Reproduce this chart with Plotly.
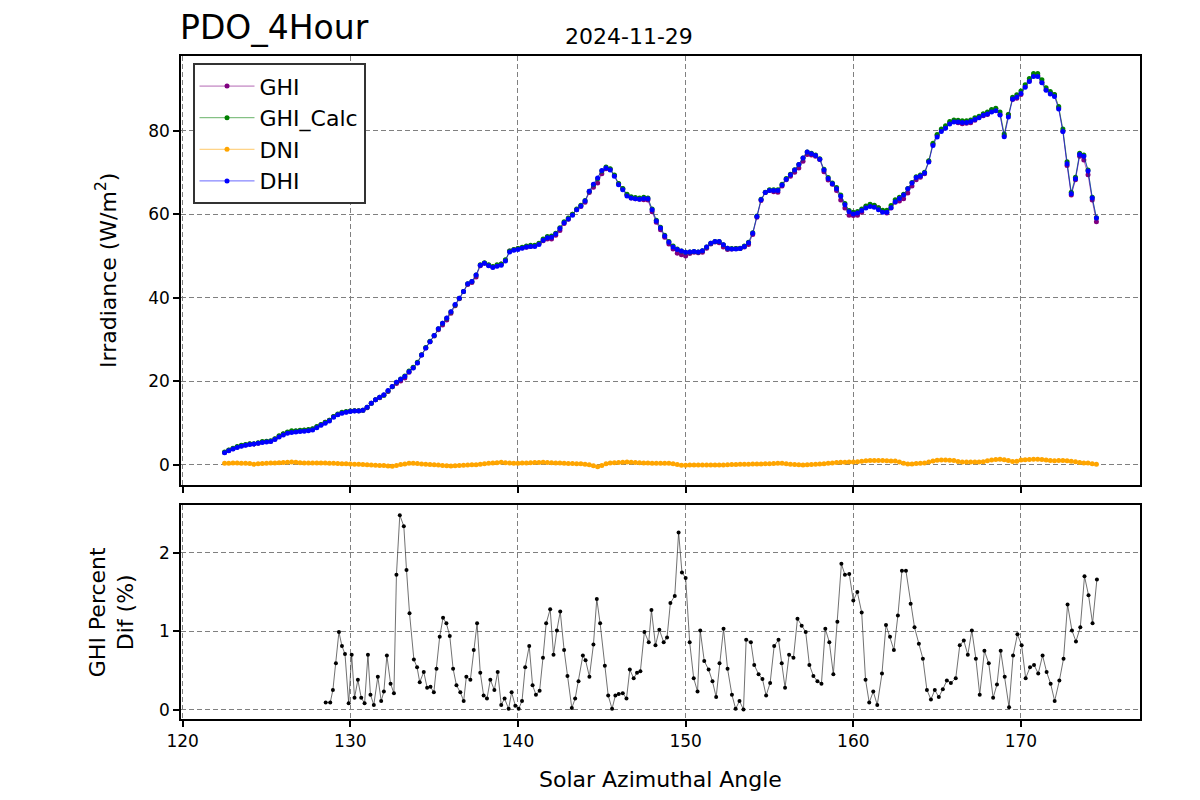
import numpy as np
import plotly.graph_objects as go

# azimuth sampling of the irradiance series (deg)
azimuth = np.round(np.arange(122.5, 174.51, 0.25), 2)

dhi = [2.9, 3.4, 3.8, 4.2, 4.5, 4.7, 4.9, 5.0,
       5.2, 5.4, 5.5, 5.6, 6.1, 6.7, 7.2, 7.6,
       7.8, 7.9, 8.0, 8.1, 8.2, 8.4, 8.9, 9.5,
       10.0, 10.5, 11.4, 12.0, 12.4, 12.6, 12.8, 12.9,
       12.9, 13.1, 13.8, 14.8, 15.6, 16.2, 16.8, 17.8,
       18.8, 19.8, 20.5, 21.2, 22.3, 23.2, 24.4, 26.3,
       28.0, 29.5, 31.0, 32.6, 33.9, 35.2, 36.7, 38.4,
       39.9, 41.5, 43.4, 43.9, 45.5, 47.8, 48.3, 47.7,
       47.3, 47.6, 47.8, 48.8, 51.0, 51.4, 51.6, 51.9,
       52.2, 52.3, 52.3, 52.8, 53.8, 54.4, 54.5, 55.3,
       56.6, 58.0, 58.9, 59.8, 61.1, 62.0, 63.2, 65.5,
       67.2, 68.7, 70.5, 71.1, 70.6, 69.1, 67.1, 65.9,
       64.4, 63.9, 63.7, 63.6, 63.8, 63.7, 61.1, 58.4,
       56.7, 54.8, 53.3, 52.2, 51.6, 51.2, 50.9, 51.0,
       51.1, 51.0, 51.3, 52.2, 53.1, 53.5, 53.5, 52.7,
       51.9, 51.7, 51.7, 51.8, 52.3, 53.2, 55.5, 59.5,
       63.5, 65.2, 65.7, 65.7, 65.7, 67.0, 68.4, 69.5,
       70.6, 71.9, 73.5, 74.9, 74.5, 74.1, 73.2, 70.6,
       68.6, 67.3, 66.1, 64.3, 62.3, 60.6, 60.1, 60.3,
       60.9, 61.5, 61.9, 61.7, 61.1, 60.5, 60.5, 61.6,
       63.0, 63.8, 64.6, 66.1, 67.5, 68.8, 69.2, 69.9,
       72.5, 76.5, 78.5, 79.8, 80.6, 81.6, 82.1, 82.1,
       82.0, 82.0, 82.2, 82.7, 83.1, 83.7, 84.0, 84.5,
       84.8, 83.8, 78.6, 83.3, 87.6, 88.1, 88.9, 90.4,
       91.8, 93.0, 93.0, 91.5, 89.7, 88.8, 88.2, 85.2,
       79.8, 72.1, 64.9, 68.5, 74.3, 73.9, 70.4, 63.9,
       59.1]

ghi_calc = [3.1, 3.6, 4.0, 4.4, 4.7, 4.9, 5.1, 5.1,
            5.3, 5.6, 5.7, 5.8, 6.3, 7.0, 7.5, 7.9,
            8.2, 8.2, 8.3, 8.4, 8.5, 8.7, 9.2, 9.7,
            10.2, 10.7, 11.6, 12.2, 12.6, 12.8, 12.9, 13.0,
            13.0, 13.1, 13.8, 14.8, 15.6, 16.2, 16.7, 17.7,
            18.7, 19.8, 20.6, 21.3, 22.5, 23.4, 24.6, 26.4,
            28.1, 29.6, 31.0, 32.6, 33.9, 35.1, 36.6, 38.3,
            39.9, 41.5, 43.4, 43.9, 45.5, 47.9, 48.4, 47.9,
            47.5, 47.9, 48.1, 49.1, 51.2, 51.6, 51.8, 52.1,
            52.4, 52.6, 52.6, 53.1, 54.1, 54.7, 54.8, 55.5,
            56.8, 58.2, 59.1, 60.0, 61.3, 62.2, 63.3, 65.5,
            67.1, 68.5, 70.4, 71.3, 70.9, 69.4, 67.4, 66.2,
            64.8, 64.2, 64.0, 63.9, 64.1, 63.9, 61.3, 58.6,
            56.9, 55.0, 53.5, 52.4, 51.7, 51.2, 50.9, 51.0,
            51.1, 51.0, 51.3, 52.2, 53.1, 53.5, 53.5, 52.7,
            51.9, 51.8, 51.8, 51.9, 52.4, 53.3, 55.6, 59.6,
            63.6, 65.3, 65.9, 65.9, 65.9, 67.2, 68.6, 69.6,
            70.7, 71.9, 73.5, 74.9, 74.6, 74.2, 73.3, 70.8,
            68.8, 67.5, 66.4, 64.6, 62.6, 60.9, 60.5, 60.7,
            61.3, 62.0, 62.4, 62.2, 61.6, 61.0, 61.0, 62.1,
            63.5, 64.1, 64.8, 66.2, 67.6, 69.0, 69.4, 70.1,
            72.8, 77.0, 79.1, 80.4, 81.2, 82.2, 82.6, 82.5,
            82.4, 82.4, 82.6, 83.1, 83.5, 84.1, 84.5, 85.1,
            85.4, 84.5, 79.2, 83.9, 88.0, 88.6, 89.5, 91.0,
            92.5, 93.7, 93.7, 92.2, 90.3, 89.4, 88.7, 85.8,
            80.4, 72.6, 65.3, 68.9, 74.6, 74.2, 70.6, 64.1,
            59.2]

ghi = [3.0, 3.5, 3.9, 4.3, 4.6, 4.8, 5.0, 5.0,
       5.2, 5.5, 5.6, 5.7, 6.2, 6.9, 7.4, 7.8,
       8.0, 8.1, 8.2, 8.3, 8.4, 8.6, 9.1, 9.6,
       10.2, 10.7, 11.6, 12.1, 12.5, 12.7, 12.9, 13.0,
       13.0, 13.1, 13.7, 14.8, 15.6, 16.1, 16.7, 17.6,
       18.7, 19.5, 20.1, 20.8, 22.2, 23.3, 24.5, 26.3,
       28.0, 29.5, 30.9, 32.4, 33.5, 34.7, 36.3, 38.1,
       39.8, 41.5, 43.2, 43.7, 45.0, 47.7, 48.3, 47.8,
       47.4, 47.7, 48.1, 49.0, 51.2, 51.5, 51.8, 52.0,
       52.1, 52.3, 52.5, 53.0, 53.7, 54.1, 54.1, 55.0,
       56.1, 57.8, 58.8, 60.0, 61.1, 61.9, 62.9, 65.2,
       66.5, 67.5, 69.7, 70.9, 70.8, 69.3, 67.3, 66.1,
       64.7, 63.9, 63.7, 63.6, 63.5, 63.4, 60.6, 58.1,
       56.3, 54.5, 52.9, 51.7, 50.7, 50.3, 50.0, 50.6,
       50.9, 50.8, 50.9, 51.9, 52.9, 53.4, 53.2, 52.2,
       51.6, 51.7, 51.8, 51.8, 52.2, 52.8, 55.2, 59.3,
       63.3, 65.2, 65.7, 65.4, 65.3, 66.8, 68.3, 69.1,
       70.1, 71.1, 72.7, 74.3, 74.2, 73.9, 73.1, 70.2,
       68.2, 67.2, 65.7, 63.4, 61.5, 59.8, 59.7, 59.8,
       60.5, 61.8, 62.3, 62.1, 61.6, 60.7, 60.3, 61.5,
       62.9, 63.2, 63.7, 65.1, 66.8, 68.3, 68.9, 69.7,
       72.7, 76.8, 78.9, 80.2, 80.9, 81.9, 82.3, 81.9,
       81.7, 81.8, 81.9, 82.5, 83.3, 83.6, 83.9, 84.9,
       85.2, 83.9, 78.8, 83.9, 87.5, 87.8, 88.7, 90.6,
       92.0, 93.2, 93.3, 91.6, 89.8, 89.1, 88.6, 85.5,
       79.9, 71.7, 64.6, 68.3, 73.9, 73.0, 69.5, 63.4,
       58.2]

dni = [0.4, 0.4, 0.45, 0.45, 0.4, 0.4, 0.35, 0.15,
       0.3, 0.35, 0.4, 0.45, 0.5, 0.55, 0.6, 0.65,
       0.72, 0.65, 0.55, 0.5, 0.5, 0.5, 0.5, 0.48,
       0.45, 0.4, 0.4, 0.35, 0.3, 0.3, 0.25, 0.2,
       0.15, 0.1, 0.05, 0.0, -0.05, -0.1, -0.15, -0.25,
       -0.3, -0.1, 0.1, 0.25, 0.4, 0.4, 0.35, 0.25,
       0.2, 0.1, 0.05, 0.0, -0.1, -0.2, -0.24, -0.2,
       -0.1, -0.05, 0.0, 0.05, 0.08, 0.2, 0.3, 0.4,
       0.5, 0.55, 0.64, 0.55, 0.45, 0.4, 0.4, 0.45,
       0.5, 0.55, 0.6, 0.62, 0.64, 0.6, 0.55, 0.5,
       0.45, 0.4, 0.35, 0.35, 0.32, 0.3, 0.2, 0.05,
       -0.2, -0.4, -0.1, 0.3, 0.5, 0.55, 0.6, 0.65,
       0.72, 0.65, 0.6, 0.55, 0.5, 0.45, 0.4, 0.4,
       0.4, 0.4, 0.4, 0.3, 0.1, -0.08, -0.05, 0.0,
       0.0, 0.0, 0.0, 0.0, 0.02, 0.0, 0.0, 0.0,
       0.05, 0.1, 0.12, 0.15, 0.16, 0.2, 0.22, 0.24,
       0.24, 0.28, 0.3, 0.35, 0.4, 0.4, 0.3, 0.2,
       0.1, 0.05, 0.0, 0.05, 0.1, 0.2, 0.24, 0.3,
       0.4, 0.5, 0.6, 0.64, 0.66, 0.7, 0.72, 0.8,
       0.9, 1.0, 1.05, 1.1, 1.1, 1.05, 1.0, 0.98,
       0.96, 0.7, 0.4, 0.25, 0.25, 0.35, 0.4, 0.5,
       0.7, 0.95, 1.15, 1.2, 1.2, 1.15, 1.05, 0.85,
       0.72, 0.72, 0.72, 0.72, 0.72, 0.8, 1.0, 1.2,
       1.3, 1.36, 1.25, 1.1, 0.85, 0.9, 1.2, 1.25,
       1.3, 1.35, 1.36, 1.3, 1.2, 1.1, 1.04, 1.1,
       1.1, 1.04, 0.9, 0.8, 0.6, 0.5, 0.45, 0.3,
       0.16]

pct_az = [128.53, 128.8, 128.96, 129.14, 129.32, 129.5, 129.68, 129.9, 130.08, 130.25,
          130.45, 130.65, 130.85, 131.05, 131.2, 131.4, 131.64, 131.84, 132.0, 132.18,
          132.4, 132.6, 132.75, 132.95, 133.19, 133.35, 133.53, 133.79, 133.98, 134.14,
          134.38, 134.58, 134.78, 134.98, 135.14, 135.33, 135.53, 135.73, 135.93, 136.13,
          136.33, 136.56, 136.76, 136.92, 137.16, 137.36, 137.56, 137.75, 137.95, 138.15,
          138.35, 138.59, 138.79, 139.0, 139.2, 139.44, 139.62, 139.84, 140.04, 140.24,
          140.43, 140.67, 140.87, 141.07, 141.29, 141.49, 141.68, 141.92, 142.12, 142.32,
          142.52, 142.75, 142.95, 143.21, 143.41, 143.61, 143.87, 144.03, 144.26, 144.5,
          144.7, 144.9, 145.18, 145.38, 145.61, 145.81, 146.01, 146.25, 146.47, 146.67,
          146.9, 147.1, 147.3, 147.54, 147.8, 147.96, 148.2, 148.43, 148.69, 148.89,
          149.09, 149.35, 149.58, 149.78, 150.0, 150.24, 150.48, 150.71, 150.87, 151.11,
          151.37, 151.6, 151.82, 152.02, 152.26, 152.5, 152.76, 152.98, 153.21, 153.45,
          153.61, 153.89, 154.09, 154.35, 154.58, 154.8, 155.04, 155.28, 155.54, 155.73,
          155.93, 156.17, 156.43, 156.67, 156.92, 157.16, 157.38, 157.62, 157.86, 158.1,
          158.33, 158.57, 158.81, 159.05, 159.29, 159.5, 159.76, 160.0, 160.24, 160.5,
          160.73, 160.95, 161.19, 161.43, 161.71, 161.95, 162.19, 162.42, 162.66, 162.9,
          163.14, 163.42, 163.65, 163.91, 164.15, 164.39, 164.63, 164.86, 165.1, 165.34,
          165.58, 165.82, 166.11, 166.35, 166.59, 166.83, 167.07, 167.31, 167.54, 167.82,
          168.08, 168.34, 168.57, 168.79, 169.03, 169.29, 169.53, 169.79, 170.04, 170.28,
          170.54, 170.78, 171.03, 171.29, 171.53, 171.77, 172.01, 172.29, 172.54, 172.78,
          173.04, 173.28, 173.54, 173.79, 174.03, 174.27, 174.53]

pct_dif = [0.09, 0.09, 0.25, 0.59, 0.99, 0.81, 0.71, 0.08, 0.70, 0.15,
           0.38, 0.15, 0.08, 0.70, 0.19, 0.06, 0.42, 0.11, 0.23, 0.69,
           0.33, 0.21, 1.72, 2.48, 2.34, 1.78, 1.23, 0.64, 0.54, 0.35,
           0.48, 0.28, 0.29, 0.22, 0.52, 0.93, 1.17, 1.10, 0.94, 0.52,
           0.31, 0.22, 0.11, 0.42, 0.38, 0.76, 1.10, 0.47, 0.18, 0.14,
           0.38, 0.25, 0.48, 0.06, 0.14, 0.01, 0.22, 0.05, 0.01, 0.11,
           0.54, 0.81, 0.31, 0.19, 0.24, 0.66, 1.10, 1.28, 0.70, 1.01,
           1.25, 0.76, 0.43, 0.02, 0.14, 0.36, 0.69, 0.63, 0.42, 0.83,
           1.41, 1.10, 0.56, 0.18, 0.01, 0.18, 0.20, 0.21, 0.14, 0.51,
           0.40, 0.47, 0.49, 0.99, 0.86, 1.27, 0.82, 1.02, 0.86, 0.92,
           1.36, 1.45, 2.26, 1.75, 1.68, 0.86, 0.40, 0.23, 1.01, 0.62,
           0.51, 0.36, 0.16, 0.59, 1.03, 0.52, 0.19, 0.01, 0.11, 0.0,
           0.89, 0.86, 0.57, 0.45, 0.39, 0.18, 0.34, 0.81, 0.89, 0.59,
           0.28, 0.70, 0.66, 1.16, 1.07, 0.99, 0.57, 0.43, 0.36, 0.33,
           1.03, 0.86, 0.45, 1.12, 1.86, 1.72, 1.73, 1.39, 1.50, 1.24,
           0.38, 0.09, 0.23, 0.06, 0.46, 1.08, 0.93, 0.76, 1.20, 1.77,
           1.77, 1.35, 1.05, 0.84, 0.65, 0.25, 0.13, 0.25, 0.16, 0.26,
           0.37, 0.34, 0.40, 0.82, 0.88, 0.70, 1.01, 0.65, 0.19, 0.75,
           0.59, 0.15, 0.32, 0.75, 0.42, 0.03, 0.69, 0.96, 0.82, 0.40,
           0.54, 0.57, 0.46, 0.69, 0.48, 0.33, 0.11, 0.37, 0.65, 1.34,
           1.01, 0.87, 1.05, 1.70, 1.46, 1.10, 1.66]

series = [('GHI', ghi, '#800080'), ('GHI_Calc', ghi_calc, '#008000'),
          ('DNI', dni, '#FFA500'), ('DHI', dhi, '#0000FF')]

FONT = 'DejaVu Sans'

fig = go.Figure()
for name, vals, color in series:
    fig.add_trace(go.Scatter(
        name=name, x=azimuth, y=vals, mode='lines+markers',
        line=dict(color=color, width=0.6),
        marker=dict(color=color, size=5),
        xaxis='x', yaxis='y',
    ))

fig.add_trace(go.Scatter(
    name='pct', x=pct_az, y=pct_dif, mode='lines+markers',
    line=dict(color='#333333', width=0.7),
    marker=dict(color='black', size=4),
    xaxis='x2', yaxis='y2', showlegend=False,
))

axis_style = dict(
    showline=True, mirror=True, linecolor='black', linewidth=1.5,
    ticks='outside', ticklen=6, tickwidth=1.5, tickcolor='black',
    showgrid=True, gridcolor='#808080', gridwidth=1, griddash='5px,3px',
    zeroline=False, tickfont=dict(family=FONT, size=17, color='black'),
)

# the page body adds an 8px offset, margins are reduced to compensate
fig.update_layout(
    width=1200, height=800,
    margin=dict(l=173, r=68, t=48, b=89),
    paper_bgcolor='white', plot_bgcolor='white',
    font=dict(family=FONT, color='black'),
    xaxis=dict(domain=[0, 1], anchor='y', range=[119.9, 177.1],
               tickvals=[120, 130, 140, 150, 160, 170], showticklabels=False, **axis_style),
    yaxis=dict(domain=[0.3529, 1], anchor='x', range=[-4.8, 97.9],
               tickvals=[0, 20, 40, 60, 80], **axis_style),
    xaxis2=dict(domain=[0, 1], anchor='y2', matches='x', range=[119.9, 177.1],
                tickvals=[120, 130, 140, 150, 160, 170], **axis_style),
    yaxis2=dict(domain=[0, 0.3228], anchor='x2', range=[-0.12, 2.61],
                tickvals=[0, 1, 2], **axis_style),
    legend=dict(x=0.012, y=0.989, xanchor='left', yanchor='top',
                bgcolor='white', bordercolor='#333333', borderwidth=2,
                itemwidth=55,
                font=dict(family=FONT, size=22, color='black')),
    showlegend=True,
)

annotations = [
    dict(text='PDO_4Hour', x=-0.003, y=1.0437, xanchor='left', yanchor='middle',
         font=dict(size=33)),
    dict(text='2024-11-29', x=0.467, y=1.030, xanchor='center', yanchor='middle',
         font=dict(size=22)),
    dict(text='Irradiance (W/m<sup>2</sup>)', x=-0.078, y=0.676, textangle=-90,
         xanchor='center', yanchor='middle', font=dict(size=22)),
    dict(text='GHI Percent<br>Dif (%)', x=-0.072, y=0.161, textangle=-90,
         xanchor='center', yanchor='middle', font=dict(size=22)),
    dict(text='Solar Azimuthal Angle', x=0.5, y=-0.0905, xanchor='center',
         yanchor='middle', font=dict(size=22)),
]
for a in annotations:
    a.update(xref='paper', yref='paper', showarrow=False)
    a['font'] = dict(family=FONT, color='black', **a['font'])
fig.update_layout(annotations=annotations)

fig.write_html("out.html")
